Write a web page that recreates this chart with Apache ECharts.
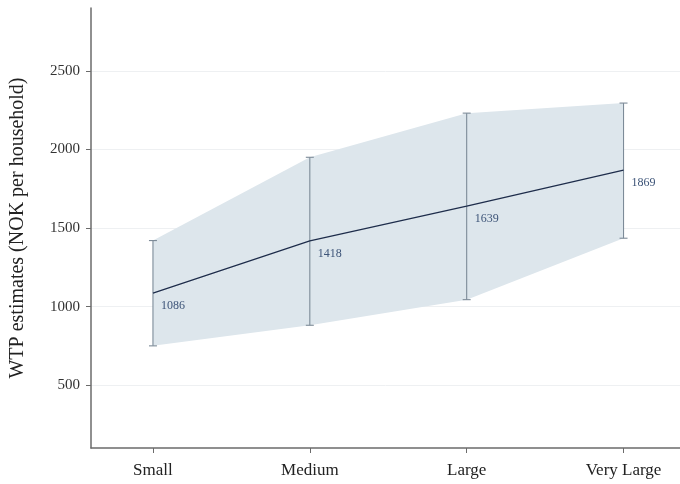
<!DOCTYPE html>
<html>
<head>
<meta charset="utf-8">
<script src="https://cdn.jsdelivr.net/npm/echarts@6/dist/echarts.min.js"></script>
<style>html,body{margin:0;padding:0;background:#fff}#c{width:680px;height:484px}</style>
</head>
<body>
<div id="c"></div>
<script>
var categories = ['Small', 'Medium', 'Large', 'Very Large'];
var means = [1086, 1418, 1639, 1869];
var upper = [1420, 1950, 2231, 2295];
var lower = [750, 881, 1044, 1435];
var yTicks = [500, 1000, 1500, 2000, 2500];
var xTicks = [0, 1, 2, 3];

var FONT = '"Liberation Serif", "DejaVu Serif", serif';
var chart = echarts.init(document.getElementById('c'));

var meanData = means.map(function (v, i) { return [i, v]; });
var barData = means.map(function (v, i) { return [i, lower[i], upper[i]]; });

chart.setOption({
  animation: false,
  backgroundColor: '#fff',
  grid: { left: 91, right: 0, top: 8, bottom: 36 },
  xAxis: {
    type: 'value', min: -0.395, max: 3.36,
    axisLine: { show: true, onZero: false, lineStyle: { color: '#6b6b6b', width: 1.5 } },
    axisTick: { show: true, customValues: xTicks, length: 5, lineStyle: { color: '#6b6b6b', width: 1 } },
    axisLabel: { customValues: xTicks, formatter: function (v) { return categories[Math.round(v)]; },
      color: '#222', fontFamily: FONT, fontSize: 17, margin: 14 },
    splitLine: { show: false }
  },
  yAxis: {
    type: 'value', min: 100, max: 2900,
    name: 'WTP estimates (NOK per household)', nameLocation: 'middle', nameGap: 63,
    nameTextStyle: { fontFamily: FONT, fontSize: 20, color: '#222' },
    axisLine: { show: true, onZero: false, lineStyle: { color: '#6b6b6b', width: 1.5 } },
    axisTick: { show: true, customValues: yTicks, length: 5, lineStyle: { color: '#6b6b6b', width: 1 } },
    axisLabel: { customValues: yTicks, formatter: function (v) { return String(v); },
      color: '#333', fontFamily: FONT, fontSize: 15, margin: 11 },
    splitLine: { show: true, lineStyle: { color: '#eef0f2', width: 1 } }
  },
  series: [
    {
      type: 'custom', z: 1, silent: true,
      data: [0],
      renderItem: function (params, api) {
        var pts = [];
        for (var i = 0; i < upper.length; i++) pts.push(api.coord([i, upper[i]]));
        for (var j = lower.length - 1; j >= 0; j--) pts.push(api.coord([j, lower[j]]));
        return { type: 'polygon', shape: { points: pts }, style: { fill: '#dde6ec' } };
      }
    },
    {
      type: 'custom', z: 2, silent: true,
      data: barData,
      renderItem: function (params, api) {
        var x = api.value(0);
        var lo = api.coord([x, api.value(1)]);
        var hi = api.coord([x, api.value(2)]);
        var w = 4;
        var st = { stroke: '#7d8b98', lineWidth: 1.1 };
        return {
          type: 'group',
          children: [
            { type: 'line', shape: { x1: lo[0], y1: lo[1], x2: hi[0], y2: hi[1] }, style: st },
            { type: 'line', shape: { x1: lo[0] - w, y1: lo[1], x2: lo[0] + w, y2: lo[1] }, style: st },
            { type: 'line', shape: { x1: hi[0] - w, y1: hi[1], x2: hi[0] + w, y2: hi[1] }, style: st }
          ]
        };
      }
    },
    {
      type: 'line', z: 3,
      data: meanData,
      symbol: 'none',
      lineStyle: { color: '#1e2d4b', width: 1.3 }
    },
    {
      type: 'custom', z: 4, silent: true,
      data: meanData,
      renderItem: function (params, api) {
        var p = api.coord([api.value(0), api.value(1)]);
        return {
          type: 'text',
          x: p[0] + 8, y: p[1] + 13,
          style: { text: String(api.value(1)), fill: '#3d5478', font: '12px ' + FONT,
            textAlign: 'left', textVerticalAlign: 'middle' }
        };
      }
    }
  ]
});
</script>
</body>
</html>
